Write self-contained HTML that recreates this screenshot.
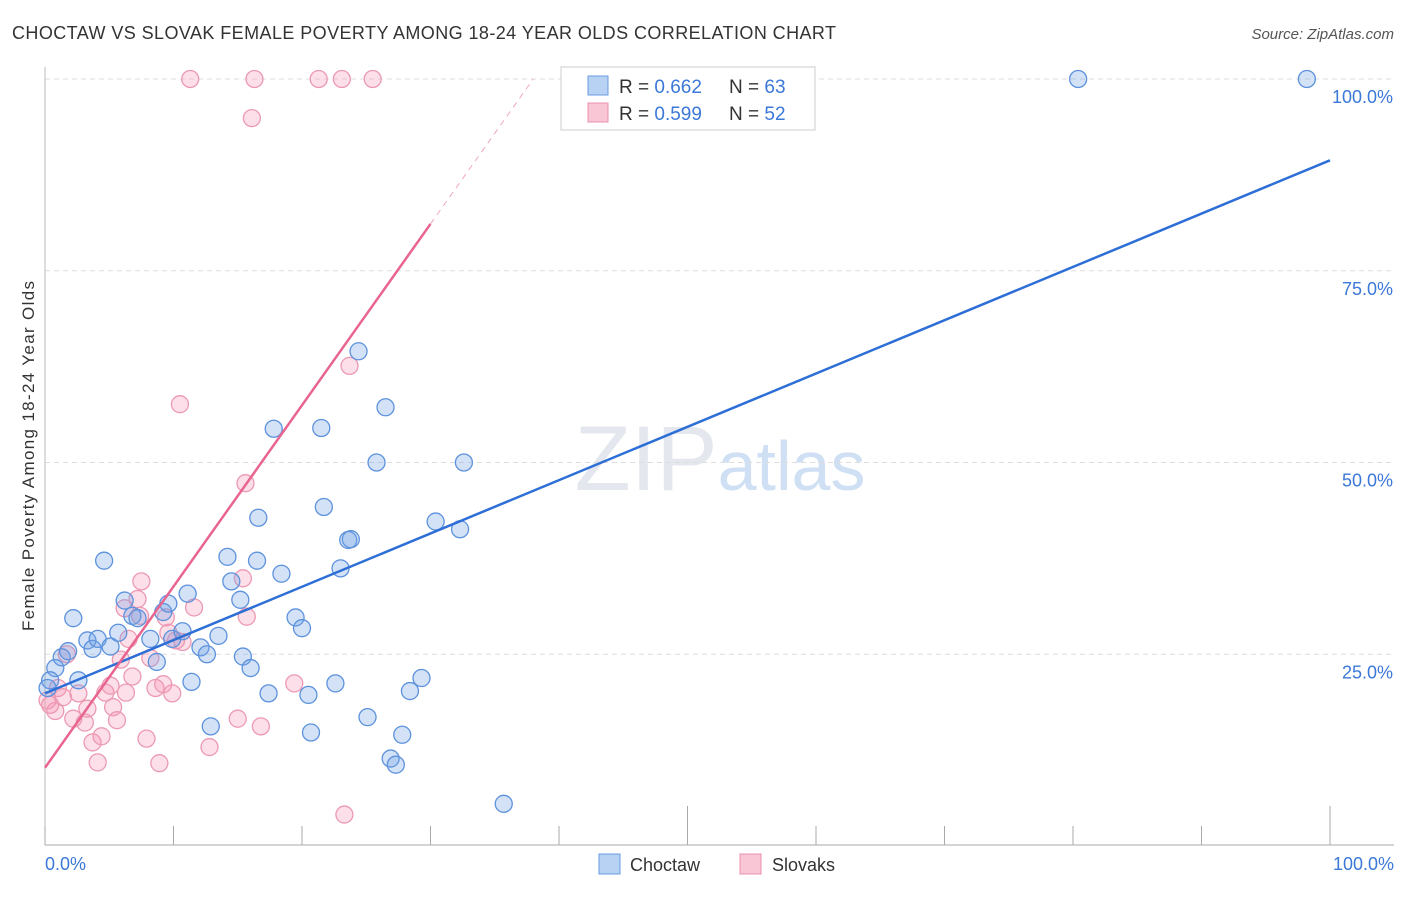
<!DOCTYPE html>
<html><head><meta charset="utf-8"><style>
body{margin:0;background:#fff;font-family:"Liberation Sans",sans-serif}
svg text{font-family:"Liberation Sans",sans-serif}
</style></head><body>
<svg id="chart" width="1406" height="892" xmlns="http://www.w3.org/2000/svg">
<text x="12" y="39" font-size="18" fill="#333" textLength="824" lengthAdjust="spacing">CHOCTAW VS SLOVAK FEMALE POVERTY AMONG 18-24 YEAR OLDS CORRELATION CHART</text>
<text x="1394" y="39" font-size="15" fill="#555" text-anchor="end" font-style="italic">Source: ZipAtlas.com</text>
<text transform="translate(34,456) rotate(-90)" font-size="17" fill="#333" text-anchor="middle" textLength="350" lengthAdjust="spacing">Female Poverty Among 18-24 Year Olds</text>
<text x="720" y="490" font-size="92" fill="#e4e8ee" text-anchor="middle" font-family="Liberation Serif">ZIP<tspan fill="#cfe0f5" font-family="Liberation Sans" font-size="70">atlas</tspan></text>
<g id="grid"></g><g id="axes"></g><g id="pts"></g><g id="lines"></g>
<g>
<rect x="561" y="67" width="254" height="63" fill="#fff" stroke="#ccc"/>
<rect x="588" y="76" width="20" height="19" fill="#b8d2f3" stroke="#6a9be0"/>
<text x="619" y="93" font-size="19" fill="#333">R = <tspan fill="#3b78d8">0.662</tspan></text>
<text x="729" y="93" font-size="19" fill="#333">N = <tspan fill="#3b78d8">63</tspan></text>
<rect x="588" y="103" width="20" height="19" fill="#f9c6d5" stroke="#e890aa"/>
<text x="619" y="120" font-size="19" fill="#333">R = <tspan fill="#3b78d8">0.599</tspan></text>
<text x="729" y="120" font-size="19" fill="#333">N = <tspan fill="#3b78d8">52</tspan></text>
</g>
<g>
<rect x="599" y="854" width="21" height="20" fill="#b8d2f3" stroke="#6a9be0"/>
<text x="630" y="871" font-size="18" fill="#333">Choctaw</text>
<rect x="740" y="854" width="21" height="20" fill="#f9c6d5" stroke="#e890aa"/>
<text x="772" y="871" font-size="18" fill="#333">Slovaks</text>
</g>
</svg>
<script>
const yTicks=[25,50,75,100];
const xTickLabels=["0.0%","100.0%"];
const blueX=[0.8,1.3,1.8,2.2,2.6,3.3,3.7,4.1,4.6,5.1,5.7,6.2,6.8,7.2,8.2,8.7,9.2,9.6,9.9,10.7,11.1,11.4,12.1,12.6,12.9,13.5,14.2,14.5,15.2,15.4,16.0,16.6,16.5,17.4,17.8,18.4,19.5,20.0,20.5,20.7,21.5,21.7,22.6,23.0,23.6,23.8,24.4,25.1,25.8,26.5,26.9,27.3,27.8,28.4,29.3,30.4,32.3,32.6,35.7,80.4,98.2,0.2,0.4];
const blueY=[23.2,24.6,25.4,29.7,21.6,26.8,25.7,27.0,37.2,26.0,27.8,32.0,30.0,29.7,27.0,24.0,30.5,31.6,27.0,28.0,32.9,21.4,25.9,25.0,15.6,27.4,37.7,34.5,32.1,24.7,23.2,42.8,37.2,19.9,54.4,35.5,29.8,28.4,19.7,14.8,54.5,44.2,21.2,36.2,39.9,40.0,64.5,16.8,50.0,57.2,11.4,10.6,14.5,20.2,21.9,42.3,41.3,50.0,5.5,100,100,20.6,21.6];
const pinkX=[0.4,0.8,1.0,1.4,1.7,2.2,2.6,3.1,3.3,3.7,4.1,4.4,4.7,5.1,5.3,5.6,5.9,6.3,6.5,6.8,7.2,7.5,7.9,8.2,8.6,8.9,9.2,9.4,9.9,10.2,10.5,10.7,11.3,11.6,12.8,15.0,15.4,15.6,15.7,16.1,16.3,16.8,19.4,21.3,23.1,23.3,23.7,25.5,9.6,7.4,6.2,0.2];
const pinkY=[18.4,17.6,20.6,19.4,25.0,16.6,19.9,16.1,17.9,13.5,10.9,14.3,20.0,20.9,18.1,16.4,24.3,20.0,27.0,22.1,32.2,34.5,14.0,24.5,20.6,10.8,21.1,29.8,19.9,26.8,57.6,26.6,100,31.1,12.9,16.6,34.9,47.3,29.9,94.9,100,15.6,21.2,100,100,4.1,62.6,100,27.8,30.0,31.0,19.0];
const trendBlue=[19.9,89.4];
const trendPink=[10.2,81.1];
const NS='http://www.w3.org/2000/svg';
const X=v=>45+v*12.85, Y=v=>846-v*7.67;
function mk(tag,attrs,parent){const e=document.createElementNS(NS,tag);for(const k in attrs)e.setAttribute(k,attrs[k]);document.getElementById(parent).appendChild(e);return e;}
yTicks.forEach(t=>{
 const l=mk('line',{x1:45,x2:1394,y1:Y(t),y2:Y(t),stroke:'#ddd','stroke-dasharray':'5,4'},'grid');
 
 
 const tx=mk('text',{x:1393,y:Y(t)+24,'font-size':18,fill:'#3b78d8','text-anchor':'end'},'grid');
 tx.textContent=t.toFixed(1)+'%';
 
 
});
const ax=mk('line',{x1:45,x2:1394,y1:845,y2:845,stroke:'#aaa'},'axes');


const ay=mk('line',{x1:45,x2:45,y1:67,y2:845,stroke:'#bbb'},'axes');


for(let i=0;i<=10;i++){const t=mk('line',{x1:X(i*10),x2:X(i*10),y1:(i==5||i==10)?806:826,y2:845,stroke:'#aaa'},'axes');
 
 }
const xl0=mk('text',{x:45,y:870,'font-size':18,fill:'#3b78d8'},'axes');xl0.textContent=xTickLabels[0];


const xl1=mk('text',{x:1394,y:870,'font-size':18,fill:'#3b78d8','text-anchor':'end'},'axes');xl1.textContent=xTickLabels[1];


pinkX.forEach((v,i)=>{const c=mk('circle',{cx:X(v),cy:Y(pinkY[i]),r:8.5,fill:'rgba(245,150,180,0.3)',stroke:'#ec9ab3','stroke-width':1.3},'pts');
 
 });
blueX.forEach((v,i)=>{const c=mk('circle',{cx:X(v),cy:Y(blueY[i]),r:8.5,fill:'rgba(110,160,230,0.3)',stroke:'#5d92dd','stroke-width':1.3},'pts');
 
 });
const bl=mk('line',{x1:X(0),y1:Y(trendBlue[0]),x2:X(100),y2:Y(trendBlue[1]),stroke:'#2d6fd6','stroke-width':2.5},'lines');


const ps=(trendPink[1]-trendPink[0])/30;
const pl=mk('line',{x1:X(0),y1:Y(trendPink[0]),x2:X(30),y2:Y(trendPink[1]),stroke:'#e8658f','stroke-width':2.5},'lines');


const xe=(100-trendPink[0])/ps;
const pd=mk('line',{x1:X(30),y1:Y(trendPink[1]),x2:X(xe),y2:Y(100),stroke:'#f0a8bd','stroke-width':1,'stroke-dasharray':'6,5'},'lines');


</script>
</body></html>
